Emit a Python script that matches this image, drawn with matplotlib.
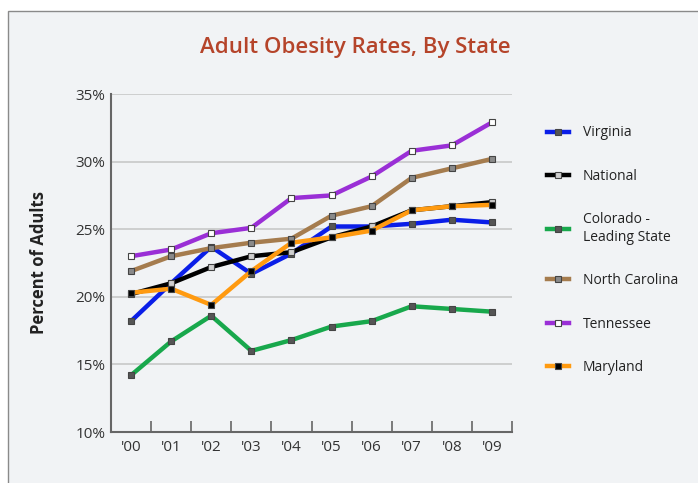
import matplotlib.pyplot as plt
from matplotlib.patches import Rectangle

# data
years = ["'00", "'01", "'02", "'03", "'04", "'05", "'06", "'07", "'08", "'09"]
virginia = [18.2, 21.0, 23.7, 21.7, 23.2, 25.2, 25.2, 25.4, 25.7, 25.5]
national = [20.2, 21.0, 22.2, 23.0, 23.3, 24.4, 25.2, 26.4, 26.7, 27.0]
colorado = [14.2, 16.7, 18.6, 16.0, 16.8, 17.8, 18.2, 19.3, 19.1, 18.9]
north_carolina = [21.9, 23.0, 23.6, 24.0, 24.3, 26.0, 26.7, 28.8, 29.5, 30.2]
tennessee = [23.0, 23.5, 24.7, 25.1, 27.3, 27.5, 28.9, 30.8, 31.2, 32.9]
maryland = [20.3, 20.6, 19.4, 21.9, 24.0, 24.4, 24.9, 26.4, 26.7, 26.8]

series = [
    ("Virginia", virginia, "#0a1ee8", "#555555"),
    ("National", national, "#000000", "#cfcfcf"),
    ("Colorado -\nLeading State", colorado, "#18a84c", "#555555"),
    ("North Carolina", north_carolina, "#a57c4e", "#8a8a8a"),
    ("Tennessee", tennessee, "#9a2fd6", "#ffffff"),
    ("Maryland", maryland, "#ff9a10", "#000000"),
]

plt.rcParams['font.family'] = ['Open Sans', 'DejaVu Sans']

fig = plt.figure(figsize=(6.98, 4.83), dpi=100)
fig.patch.set_facecolor("white")

# outer frame
fig.patches.append(Rectangle((8 / 698, -0.01), 1.0, 1 - 11 / 483 + 0.01,
                             transform=fig.transFigure, facecolor="#f1f3f5",
                             edgecolor="#8a8a8a", linewidth=1.0, zorder=-5))

ax = fig.add_axes([111 / 698, 51 / 483, 401 / 698, 338 / 483])
ax.set_facecolor("none")
ax.set_zorder(2)

x = list(range(len(years)))
draw_order = [2, 3, 4, 0, 1, 5]
for i in draw_order:
    name, vals, color, mface = series[i]
    ax.plot(x, vals, color=color, linewidth=3.2, marker="s", markersize=4.5,
            markerfacecolor=mface, markeredgecolor="#444444", markeredgewidth=0.8,
            label=name, zorder=3 + i)

ax.set_xlim(-0.5, 9.5)
ax.set_ylim(10, 35)
ax.set_yticks([10, 15, 20, 25, 30, 35])
ax.set_yticklabels(["10%", "15%", "20%", "25%", "30%", "35%"], fontsize=11, color="#333333")
ax.set_xticks(x)
ax.set_xticklabels(years, fontsize=11, color="#333333")
ax.set_xticks([i + 0.5 for i in x], minor=True)
ax.tick_params(axis="x", which="major", length=0, pad=6)
ax.tick_params(axis="x", which="minor", direction="in", length=8, width=1.2, color="#666666")
ax.tick_params(axis="y", length=0, pad=4)

for v in [15, 20, 25, 30, 35]:
    ax.axhline(v, color="#c8c8c8", linewidth=1.2, zorder=1)

for s in ["top", "right"]:
    ax.spines[s].set_visible(False)
for s in ["left", "bottom"]:
    ax.spines[s].set_color("#666666")
    ax.spines[s].set_linewidth(1.5)

ax.set_ylabel("Percent of Adults", fontsize=12, fontweight="bold", color="#222222", labelpad=20)

fig.text(355 / 698, 1 - 47 / 483, "Adult Obesity Rates, By State", ha="center", va="center",
         fontsize=16, fontweight="semibold", color="#b5442a")

handles, labels = ax.get_legend_handles_labels()
order = [series[i][0] for i in range(len(series))]
hl = dict(zip(labels, handles))
fig.legend([hl[n] for n in order], order, loc="upper left",
           bbox_to_anchor=(534 / 698, 1 - 113 / 483), frameon=False,
           fontsize=10, handlelength=1.6, labelspacing=2.05, handletextpad=1.0,
           labelcolor="#222222")

fig.savefig("out.png", dpi=100)
